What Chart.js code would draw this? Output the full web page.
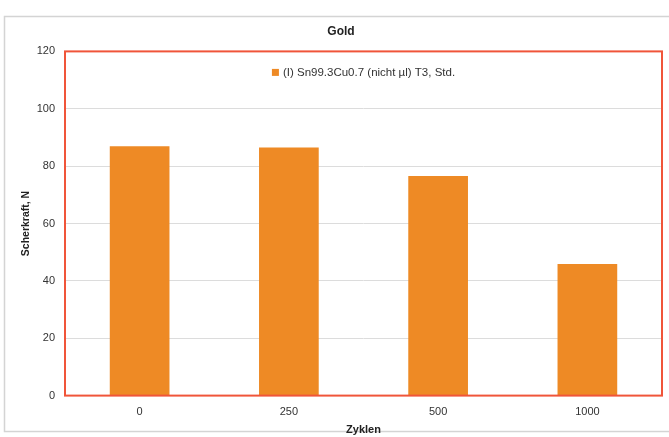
<!DOCTYPE html>
<html>
<head>
<meta charset="utf-8">
<script src="https://cdn.jsdelivr.net/npm/chart.js@4"></script>
<style>
  html, body { margin: 0; padding: 0; background: #fff; }
  #wrap { width: 669px; height: 437px; }
</style>
</head>
<body>
<div id="wrap"><canvas id="chart" width="669" height="437"></canvas></div>
<script>
var zyklen = ['0', '250', '500', '1000'];
var scherkraft = [86.9, 86.5, 76.6, 45.9];
var seriesName = '(I) Sn99.3Cu0.7 (nicht µl) T3, Std.';
var yTicks = [0, 20, 40, 60, 80, 100, 120];

// outer frame, red border round the plot area, legend inside the plot area
var framePlugin = {
    id: 'frame',
    beforeDraw: function (chart) {
        var c = chart.ctx;
        c.save();
        c.strokeStyle = '#d4d4d4';
        c.lineWidth = 1.5;
        c.strokeRect(4.5, 16.5, 670, 415);
        c.restore();
    },
    afterDatasetsDraw: function (chart) {
        var a = chart.chartArea;
        var c = chart.ctx;
        c.save();
        c.strokeStyle = '#f0553a';
        c.lineWidth = 2;
        c.strokeRect(a.left, a.top, a.right - a.left, a.bottom - a.top);

        var ds = chart.data.datasets[0];
        c.font = '11.5px "Liberation Sans", Arial, sans-serif';
        var tw = c.measureText(ds.label).width;
        var box = 7, gap = 4;
        var x0 = (a.left + a.right) / 2 - (box + gap + tw) / 2;
        var y0 = a.top + 21;
        c.fillStyle = ds.backgroundColor;
        c.fillRect(x0, y0 - box / 2, box, box);
        c.fillStyle = '#333';
        c.textBaseline = 'middle';
        c.fillText(ds.label, x0 + box + gap, y0);
        c.restore();
    }
};

Chart.defaults.font.family = '"Liberation Sans", Arial, sans-serif';
Chart.defaults.color = '#333';

new Chart(document.getElementById('chart'), {
    type: 'bar',
    data: {
        labels: zyklen,
        datasets: [{
            label: seriesName,
            data: scherkraft,
            backgroundColor: '#ee8a25',
            barPercentage: 0.4,
            categoryPercentage: 1.0
        }]
    },
    options: {
        responsive: false,
        animation: false,
        layout: { padding: { top: 20, right: 7, left: 20, bottom: 0 } },
        plugins: {
            title: {
                display: true,
                text: 'Gold',
                font: { size: 12, weight: 'bold' },
                color: '#222',
                padding: { top: 4, bottom: 13 }
            },
            legend: { display: false },
            tooltip: { enabled: false }
        },
        scales: {
            x: {
                grid: { display: false },
                border: { display: false },
                ticks: { font: { size: 11 }, padding: 2 },
                title: {
                    display: true,
                    text: 'Zyklen',
                    font: { size: 11, weight: 'bold' },
                    color: '#222',
                    padding: { top: 3, bottom: 0 }
                }
            },
            y: {
                min: 0,
                max: 120,
                afterBuildTicks: function (axis) {
                    axis.ticks = yTicks.map(function (v) { return { value: v }; });
                },
                afterFit: function (axis) {
                    axis.width = 45;
                },
                grid: { color: '#dcdcdc', drawTicks: false },
                border: { display: false },
                ticks: { font: { size: 11 }, padding: 10 },
                title: {
                    display: true,
                    text: 'Scherkraft, N',
                    font: { size: 10.5, weight: 'bold' },
                    color: '#222',
                    padding: { top: 0, bottom: 3 }
                }
            }
        }
    },
    plugins: [framePlugin]
});
</script>
</body>
</html>
